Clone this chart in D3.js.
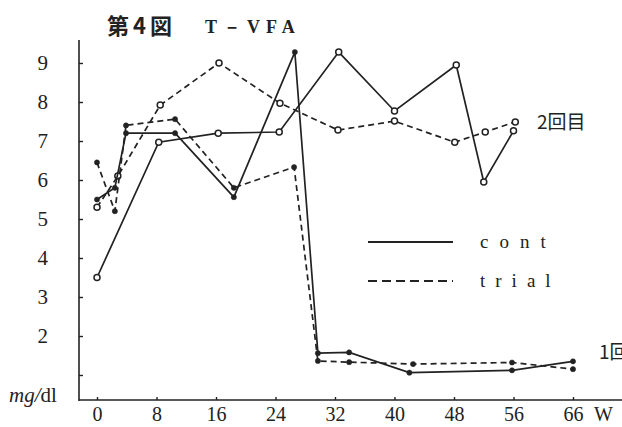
<!DOCTYPE html>
<html>
<head>
<meta charset="utf-8">
<script src="https://cdn.jsdelivr.net/npm/d3@7"></script>
<style>
body { margin: 0; background: #fff; }
svg { display: block; }
.tick text { font-family: "Liberation Serif", serif; font-size: 20px; fill: #222; }
</style>
</head>
<body>
<div id="chart"></div>
<script>
// data (weeks, mg/dl)
var xTicks = [0, 8, 16, 24, 32, 40, 48, 56, 66];
var yTicks = [1, 2, 3, 4, 5, 6, 7, 8, 9];

// 1回目 (filled dots)
var cont1Weeks = [0, 2.4, 3.9, 10.5, 18.4, 26.6, 29.7, 33.9, 42, 55.8, 66];
var cont1Vals  = [5.5, 5.8, 7.2, 7.2, 5.56, 9.28, 1.56, 1.58, 1.06, 1.12, 1.35];
var trial1Weeks = [0, 2.4, 3.9, 10.5, 18.4, 26.5, 29.7, 33.9, 42.5, 55.8, 66];
var trial1Vals  = [6.45, 5.2, 7.4, 7.56, 5.8, 6.33, 1.36, 1.33, 1.28, 1.32, 1.15];

// 2回目 (open circles)
var cont2Weeks = [0, 8.3, 16.3, 24.5, 32.5, 40, 48.3, 52, 56];
var cont2Vals  = [3.5, 6.97, 7.2, 7.23, 9.28, 7.77, 8.95, 5.95, 7.26];
var trial2Weeks = [0, 2.8, 8.5, 16.4, 24.6, 32.4, 40, 48.1, 52.2, 56.3];
var trial2Vals  = [5.3, 6.1, 7.92, 9.0, 7.97, 7.28, 7.51, 6.97, 7.23, 7.49];

var width = 622, height = 427;
var ink = "#222";

var svg = d3.select("#chart")
  .append("svg")
  .attr("width", width)
  .attr("height", height);

// the last tick (66) sits one step after 56, like the others
var x = d3.scaleLinear()
  .domain([0, 56, 66])
  .range([97, 513.5, 573]);

var y = d3.scaleLinear()
  .domain([1, 9])
  .range([375, 63]);

var axisX0 = 79, axisY0 = 400;

// axis lines
svg.append("line")
  .attr("x1", axisX0).attr("x2", axisX0)
  .attr("y1", 40).attr("y2", axisY0 + 1)
  .attr("stroke", ink).attr("stroke-width", 1.6);
svg.append("line")
  .attr("x1", axisX0).attr("x2", width)
  .attr("y1", axisY0).attr("y2", axisY0)
  .attr("stroke", ink).attr("stroke-width", 1.6);

// y axis
var yAxis = svg.append("g")
  .attr("transform", "translate(" + axisX0 + ",0)")
  .call(d3.axisLeft(y)
    .tickValues(yTicks)
    .tickSize(-4)
    .tickPadding(31)
    .tickFormat(function(d){ return d == 1 ? "" : d; }));
yAxis.select(".domain").remove();
yAxis.selectAll(".tick line").attr("stroke", ink).attr("stroke-width", 1.4);
yAxis.selectAll(".tick text").style("font-size", "21px");

// x axis
var xAxis = svg.append("g")
  .attr("transform", "translate(0," + axisY0 + ")")
  .call(d3.axisBottom(x)
    .tickValues(xTicks)
    .tickSize(-3)
    .tickPadding(7)
    .tickFormat(d3.format("d")));
xAxis.select(".domain").remove();
xAxis.selectAll(".tick line").attr("stroke", ink).attr("stroke-width", 1.4);

// series
function pts(weeks, vals) {
  return weeks.map(function(w, i){ return [w, vals[i]]; });
}
var line = d3.line()
  .x(function(d){ return x(d[0]); })
  .y(function(d){ return y(d[1]); });

var series = [
  {data: pts(cont2Weeks, cont2Vals), dash: null, open: true},
  {data: pts(trial2Weeks, trial2Vals), dash: "6,4", open: true},
  {data: pts(cont1Weeks, cont1Vals), dash: null, open: false},
  {data: pts(trial1Weeks, trial1Vals), dash: "6,4", open: false}
];

series.forEach(function(s){
  svg.append("path")
    .datum(s.data)
    .attr("d", line)
    .attr("fill", "none")
    .attr("stroke", ink)
    .attr("stroke-width", 1.7)
    .attr("stroke-dasharray", s.dash);

  svg.append("g")
    .selectAll("circle")
    .data(s.data)
    .enter()
    .append("circle")
    .attr("cx", function(d){ return x(d[0]); })
    .attr("cy", function(d){ return y(d[1]); })
    .attr("r", s.open ? 3 : 2.6)
    .attr("fill", s.open ? "#fff" : ink)
    .attr("stroke", ink)
    .attr("stroke-width", s.open ? 1.5 : 0.5);
});

// legend
var legend = svg.append("g");
legend.append("line")
  .attr("x1", 368).attr("x2", 453).attr("y1", 242).attr("y2", 242)
  .attr("stroke", ink).attr("stroke-width", 2);
legend.append("line")
  .attr("x1", 368).attr("x2", 453).attr("y1", 281).attr("y2", 281)
  .attr("stroke", ink).attr("stroke-width", 2)
  .attr("stroke-dasharray", "9,5");
legend.append("text")
  .text("cont")
  .attr("x", 480).attr("y", 248)
  .style("font-family", "Liberation Serif, serif")
  .style("font-size", "19px")
  .style("letter-spacing", "11px")
  .attr("fill", ink);
legend.append("text")
  .text("trial")
  .attr("x", 480).attr("y", 287)
  .style("font-family", "Liberation Serif, serif")
  .style("font-size", "19px")
  .style("letter-spacing", "10px")
  .attr("fill", ink);

// labels
var labels = svg.append("g").attr("fill", ink);

labels.append("text")
  .text("第4図")
  .attr("x", 107).attr("y", 34)
  .style("font-family", "Noto Sans CJK JP, sans-serif")
  .style("font-size", "22px")
  .style("font-weight", "bold")
  .style("letter-spacing", "4px");
labels.append("text")
  .text("T－VFA")
  .attr("x", 205).attr("y", 33)
  .style("font-family", "Liberation Serif, serif")
  .style("font-size", "18px")
  .style("font-weight", "bold")
  .style("letter-spacing", "6px");

labels.append("text")
  .text("2回目")
  .attr("x", 537).attr("y", 129)
  .style("font-family", "Noto Sans CJK JP, sans-serif")
  .style("font-size", "19px");
labels.append("text")
  .text("1回目")
  .attr("x", 599).attr("y", 359)
  .style("font-family", "Noto Sans CJK JP, sans-serif")
  .style("font-size", "19px");

var unit = labels.append("text")
  .attr("x", 9).attr("y", 402)
  .style("font-family", "Liberation Serif, serif")
  .style("font-size", "21px");
unit.append("tspan").text("mg").style("font-style", "italic");
unit.append("tspan").text("/").style("font-style", "italic");
unit.append("tspan").text("dl");

labels.append("text")
  .text("W")
  .attr("x", 594).attr("y", 421)
  .style("font-family", "Liberation Serif, serif")
  .style("font-size", "20px");
</script>
</body>
</html>
